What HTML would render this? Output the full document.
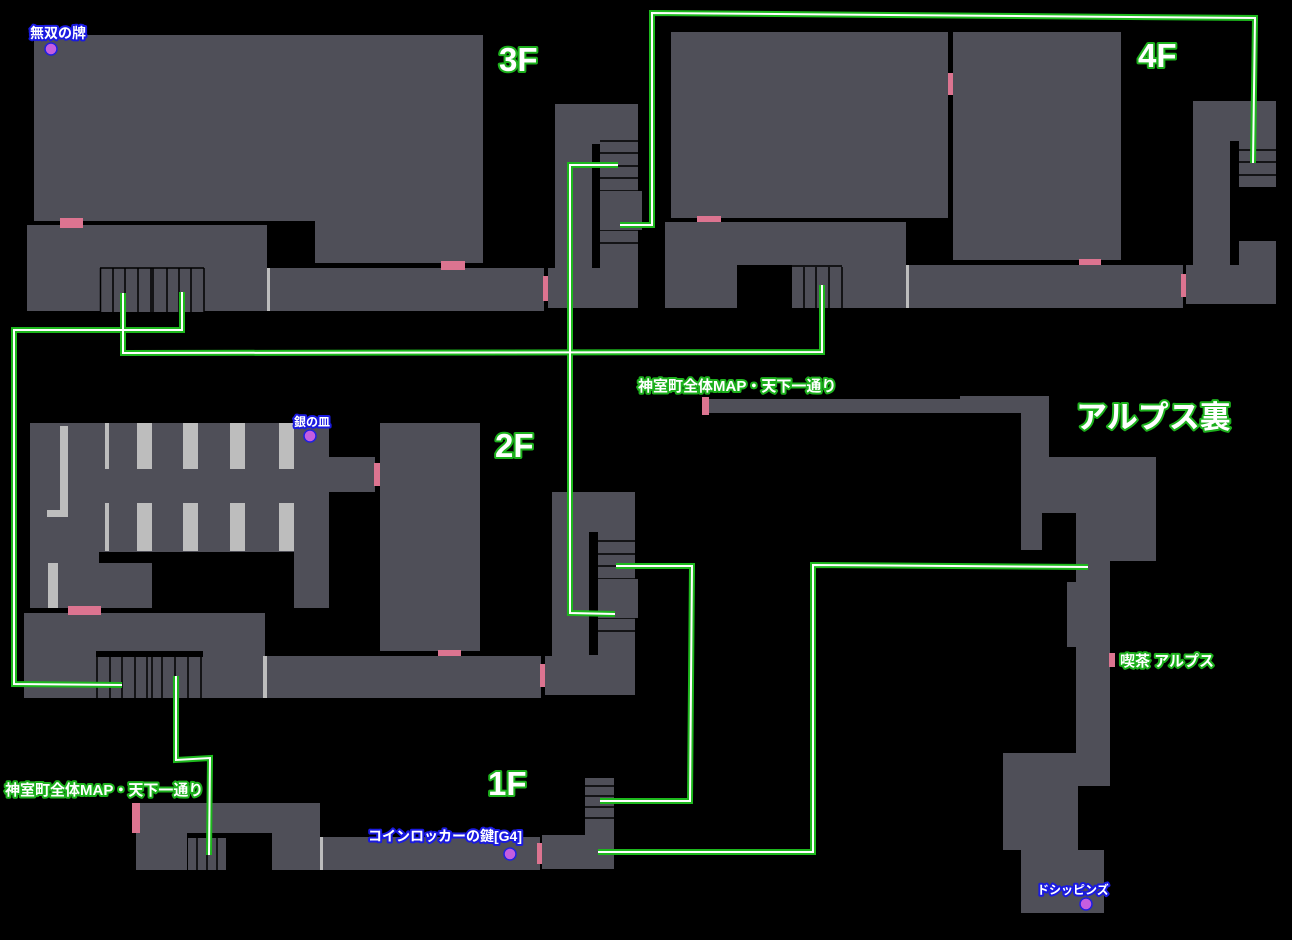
<!DOCTYPE html>
<html><head><meta charset="utf-8"><style>
html,body{margin:0;padding:0;background:#000;}
svg{display:block}
.g{fill:#4f4f58}
.p{fill:#dc7490}
.w{fill:#bdbdbd}
.k{fill:#000}
.rg{fill:none;stroke:#1db81d;stroke-width:6;stroke-linejoin:miter}
.rw{fill:none;stroke:#fff;stroke-width:2;stroke-linejoin:miter}
.tl{font-family:"Liberation Sans","Noto Sans CJK JP",sans-serif;font-weight:bold;fill:#fff;stroke:#1cb01c;stroke-width:4;paint-order:stroke;stroke-linejoin:round}
.tb{font-family:"Liberation Sans","Noto Sans CJK JP",sans-serif;font-weight:bold;fill:#fff;stroke:#1a1ae0;stroke-width:4;paint-order:stroke;stroke-linejoin:round}
.dot{fill:#c45ee0;stroke:#2020e0;stroke-width:1.5}
.sl{stroke:#000;stroke-width:1.5}
</style></head><body>
<svg width="1292" height="940" viewBox="0 0 1292 940" xmlns="http://www.w3.org/2000/svg">
<rect width="1292" height="940" fill="#000"/>

<!-- ===== 3F ===== -->
<rect class="g" x="34" y="35" width="449" height="186"/>
<rect class="g" x="315" y="221" width="168" height="42"/>
<rect class="g" x="27" y="225" width="240" height="86"/>
<rect class="p" x="60" y="218" width="23" height="10"/>
<rect class="g" x="100" y="268" width="104" height="44"/>
<g class="sl">
<line x1="100" y1="268" x2="204" y2="268"/>
<line x1="100.5" y1="268" x2="100.5" y2="312"/><line x1="113" y1="268" x2="113" y2="312"/><line x1="125" y1="268" x2="125" y2="312"/><line x1="138" y1="268" x2="138" y2="312"/><line x1="151" y1="268" x2="151" y2="312"/><line x1="153" y1="268" x2="153" y2="312"/><line x1="167" y1="268" x2="167" y2="312"/><line x1="179" y1="268" x2="179" y2="312"/><line x1="191" y1="268" x2="191" y2="312"/><line x1="204" y1="268" x2="204" y2="312"/>
</g>
<rect class="g" x="267" y="268" width="277" height="43"/>
<rect class="w" x="267" y="268" width="3" height="43"/>
<rect class="p" x="441" y="261" width="24" height="9"/>
<rect class="p" x="543" y="276" width="7" height="25"/>
<rect class="g" x="555" y="104" width="83" height="204"/>
<rect class="g" x="548" y="268" width="90" height="40"/>
<rect class="k" x="592" y="144" width="8" height="124"/>
<g class="sl"><line x1="600" y1="141" x2="640" y2="141"/><line x1="600" y1="153" x2="640" y2="153"/><line x1="600" y1="166" x2="640" y2="166"/><line x1="600" y1="178" x2="640" y2="178"/><line x1="600" y1="191" x2="642" y2="191"/><line x1="600" y1="204" x2="642" y2="204"/><line x1="600" y1="217" x2="642" y2="217"/><line x1="600" y1="230" x2="640" y2="230"/><line x1="600" y1="243" x2="640" y2="243"/></g>
<rect class="g" x="600" y="191" width="42" height="39"/>

<!-- ===== 4F ===== -->
<rect class="g" x="671" y="32" width="277" height="186"/>
<rect class="p" x="948" y="73" width="6" height="22"/>
<rect class="g" x="953" y="32" width="168" height="228"/>
<rect class="p" x="1079" y="259" width="22" height="8"/>
<rect class="p" x="697" y="216" width="24" height="7"/>
<rect class="g" x="665" y="222" width="241" height="86"/>
<rect class="k" x="737" y="265" width="55" height="43"/>
<rect class="g" x="792" y="267" width="50" height="41"/>
<g class="sl"><line x1="792" y1="266" x2="842" y2="266"/><line x1="804" y1="267" x2="804" y2="308"/><line x1="816" y1="267" x2="816" y2="308"/><line x1="829" y1="267" x2="829" y2="308"/><line x1="842" y1="267" x2="842" y2="308"/></g>
<rect class="g" x="906" y="265" width="277" height="43"/>
<rect class="w" x="906" y="265" width="3" height="43"/>
<rect class="p" x="1181" y="274" width="7" height="23"/>
<rect class="g" x="1193" y="101" width="83" height="40"/>
<rect class="g" x="1193" y="141" width="37" height="124"/>
<rect class="g" x="1239" y="141" width="37" height="46"/>
<g class="sl"><line x1="1239" y1="150" x2="1276" y2="150"/><line x1="1239" y1="162" x2="1276" y2="162"/><line x1="1239" y1="175" x2="1276" y2="175"/></g>
<rect class="g" x="1239" y="241" width="37" height="24"/>
<rect class="g" x="1186" y="265" width="90" height="39"/>

<!-- ===== 2F ===== -->
<rect class="g" x="30" y="423" width="299" height="129"/>
<rect class="g" x="30" y="552" width="69" height="56"/>
<rect class="g" x="99" y="563" width="53" height="45"/>
<rect class="g" x="294" y="552" width="35" height="56"/>
<rect class="g" x="329" y="457" width="46" height="35"/>
<rect class="p" x="374" y="463" width="6" height="23"/>
<rect class="w" x="105" y="423" width="4" height="46"/>
<rect class="w" x="137" y="423" width="15" height="46"/>
<rect class="w" x="183" y="423" width="15" height="46"/>
<rect class="w" x="230" y="423" width="15" height="46"/>
<rect class="w" x="279" y="423" width="15" height="46"/>
<rect class="w" x="105" y="503" width="4" height="48"/>
<rect class="w" x="137" y="503" width="15" height="48"/>
<rect class="w" x="183" y="503" width="15" height="48"/>
<rect class="w" x="230" y="503" width="15" height="48"/>
<rect class="w" x="279" y="503" width="15" height="48"/>
<rect class="w" x="60" y="426" width="8" height="91"/>
<rect class="w" x="47" y="510" width="21" height="7"/>
<rect class="w" x="48" y="563" width="10" height="45"/>
<rect class="g" x="380" y="423" width="100" height="228"/>
<rect class="p" x="438" y="650" width="23" height="7"/>
<rect class="g" x="24" y="613" width="241" height="85"/>
<rect class="p" x="68" y="606" width="33" height="9"/>
<rect class="k" x="96" y="651" width="107" height="6"/>
<g class="sl"><line x1="97" y1="657" x2="97" y2="698"/><line x1="110" y1="657" x2="110" y2="698"/><line x1="122" y1="657" x2="122" y2="698"/><line x1="135" y1="657" x2="135" y2="698"/><line x1="147" y1="657" x2="147" y2="698"/><line x1="152" y1="657" x2="152" y2="698"/><line x1="162" y1="657" x2="162" y2="698"/><line x1="175" y1="657" x2="175" y2="698"/><line x1="188" y1="657" x2="188" y2="698"/><line x1="201" y1="657" x2="201" y2="698"/></g>
<rect class="g" x="263" y="656" width="278" height="42"/>
<rect class="w" x="263" y="656" width="4" height="42"/>
<rect class="p" x="540" y="664" width="6" height="23"/>
<rect class="g" x="552" y="492" width="83" height="203"/>
<rect class="g" x="545" y="656" width="90" height="39"/>
<rect class="k" x="589" y="532" width="9" height="123"/>
<g class="sl"><line x1="598" y1="541" x2="636" y2="541"/><line x1="598" y1="554" x2="636" y2="554"/><line x1="598" y1="566" x2="636" y2="566"/><line x1="598" y1="579" x2="638" y2="579"/><line x1="598" y1="592" x2="638" y2="592"/><line x1="598" y1="605" x2="638" y2="605"/><line x1="598" y1="618" x2="638" y2="618"/><line x1="598" y1="631" x2="636" y2="631"/></g>
<rect class="g" x="598" y="579" width="40" height="39"/>

<!-- ===== 1F ===== -->
<rect class="g" x="136" y="803" width="184" height="67"/>
<rect class="k" x="187" y="833" width="85" height="37"/>
<rect class="g" x="188" y="838" width="38" height="32"/>
<g class="sl"><line x1="197" y1="838" x2="197" y2="870"/><line x1="207" y1="838" x2="207" y2="870"/><line x1="217" y1="838" x2="217" y2="870"/></g>
<rect class="p" x="132" y="803" width="8" height="30"/>
<rect class="g" x="320" y="837" width="220" height="33"/>
<rect class="w" x="320" y="837" width="3" height="33"/>
<rect class="p" x="537" y="843" width="7" height="21"/>
<rect class="g" x="542" y="835" width="72" height="34"/>
<rect class="g" x="585" y="778" width="29" height="57"/>
<g class="sl"><line x1="585" y1="786" x2="614" y2="786"/><line x1="585" y1="796" x2="614" y2="796"/><line x1="585" y1="807" x2="614" y2="807"/><line x1="585" y1="818" x2="614" y2="818"/></g>

<!-- ===== アルプス裏 ===== -->
<rect class="p" x="702" y="397" width="7" height="18"/>
<rect class="g" x="709" y="399" width="340" height="14"/>
<rect class="g" x="960" y="396" width="89" height="17"/>
<rect class="g" x="1021" y="396" width="28" height="61"/>
<rect class="g" x="1021" y="457" width="135" height="56"/>
<rect class="g" x="1021" y="513" width="21" height="37"/>
<rect class="g" x="1076" y="513" width="80" height="48"/>
<rect class="g" x="1076" y="561" width="34" height="225"/>
<rect class="g" x="1067" y="582" width="9" height="65"/>
<rect class="p" x="1109" y="653" width="6" height="14"/>
<rect class="g" x="1003" y="753" width="107" height="33"/>
<rect class="g" x="1003" y="786" width="75" height="64"/>
<rect class="g" x="1021" y="850" width="83" height="63"/>

<!-- ===== routes ===== -->
<g>
<polyline class="rg" points="123,293 123,353 822,352 822,285"/>
<polyline class="rg" points="182,292 182,330 14,330 14,684 122,685"/>
<polyline class="rg" points="618,165 570,165 570,613 615,614"/>
<polyline class="rg" points="620,225 652,225 652,13 1255,18 1253,163"/>
<polyline class="rg" points="176,676 176,760 210,758 209,855"/>
<polyline class="rg" points="616,566 692,566 690,801 600,801"/>
<polyline class="rg" points="598,852 813,852 813,565 1088,567"/>
<polyline class="rw" points="123,293 123,353 822,352 822,285"/>
<polyline class="rw" points="182,292 182,330 14,330 14,684 122,685"/>
<polyline class="rw" points="618,165 570,165 570,613 615,614"/>
<polyline class="rw" points="620,225 652,225 652,13 1255,18 1253,163"/>
<polyline class="rw" points="176,676 176,760 210,758 209,855"/>
<polyline class="rw" points="616,566 692,566 690,801 600,801"/>
<polyline class="rw" points="598,852 813,852 813,565 1088,567"/>
</g>

<!-- dots -->
<ellipse class="dot" cx="51" cy="49" rx="6" ry="6"/>
<ellipse class="dot" cx="310" cy="436" rx="6" ry="6"/>
<ellipse class="dot" cx="510" cy="854" rx="6" ry="6"/>
<ellipse class="dot" cx="1086" cy="904" rx="6" ry="6"/>

<!-- labels -->
<text class="tl" x="499" y="71" font-size="33">3F</text>
<text class="tl" x="1138" y="67" font-size="33">4F</text>
<text class="tl" x="495" y="457" font-size="33">2F</text>
<text class="tl" x="488" y="795" font-size="33">1F</text>
<text class="tl" x="1076" y="428" font-size="31">アルプス裏</text>
<text class="tl" x="638" y="391" font-size="15">神室町全体MAP・天下一通り</text>
<text class="tl" x="5" y="795" font-size="15">神室町全体MAP・天下一通り</text>
<text class="tl" x="1120" y="666" font-size="15">喫茶 アルプス</text>
<text class="tb" x="30" y="38" font-size="14">無双の牌</text>
<text class="tb" x="294" y="426" font-size="12">銀の皿</text>
<text class="tb" x="368" y="841" font-size="14">コインロッカーの鍵[G4]</text>
<text class="tb" x="1037" y="894" font-size="12">ドシッピンズ</text>
</svg>
</body></html>
